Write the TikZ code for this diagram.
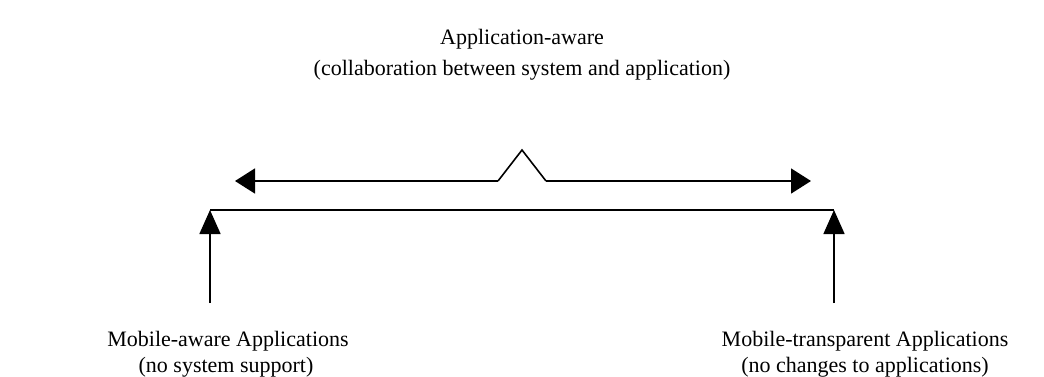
\documentclass[tikz,border=0pt]{standalone}
\usepackage{fontspec}
\setmainfont{Liberation Serif}
\usetikzlibrary{arrows.meta}
\begin{document}
\begin{tikzpicture}[x=1pt,y=-1pt,
  line/.style={line width=1.6pt},
  head/.style={-{Triangle[length=20pt,width=25pt]}},
  uphead/.style={-{Triangle[length=24pt,width=21pt]}},
  label/.style={anchor=base,inner sep=0pt,font=\fontsize{22}{26}\selectfont}]
\useasboundingbox (0,0) rectangle (1044,376);
% captions
\node[label] (top1) at (522,44) {Application-aware};
\node[label] (top2) at (522,75) {(collaboration between system and application)};
\node[label] (left1) at (228,346) {Mobile-aware Applications};
\node[label] (left2) at (226,372) {(no system support)};
\node[label] (right1) at (865,346) {Mobile-transparent Applications};
\node[label] (right2) at (865,372) {(no changes to applications)};
% spectrum bar
\coordinate (L) at (210,210);
\coordinate (R) at (834,210);
\draw[line] (L) -- (R);
% arrows pointing up to the bar ends
\coordinate (Lb) at (210,303);
\coordinate (Rb) at (834,303);
\draw[line,uphead] (Lb) -- (L);
\draw[line,uphead] (Rb) -- (R);
% double arrow with a peak in the middle
\coordinate (pl) at (498,181);
\coordinate (pk) at (522,150);
\coordinate (pr) at (546,181);
\coordinate (al) at (235,181);
\coordinate (ar) at (811,181);
\draw[line,head] (pl) -- (al);
\draw[line,head] (pr) -- (ar);
\draw[line,line join=miter] (pl) -- (pk) -- (pr);
\end{tikzpicture}
\end{document}
